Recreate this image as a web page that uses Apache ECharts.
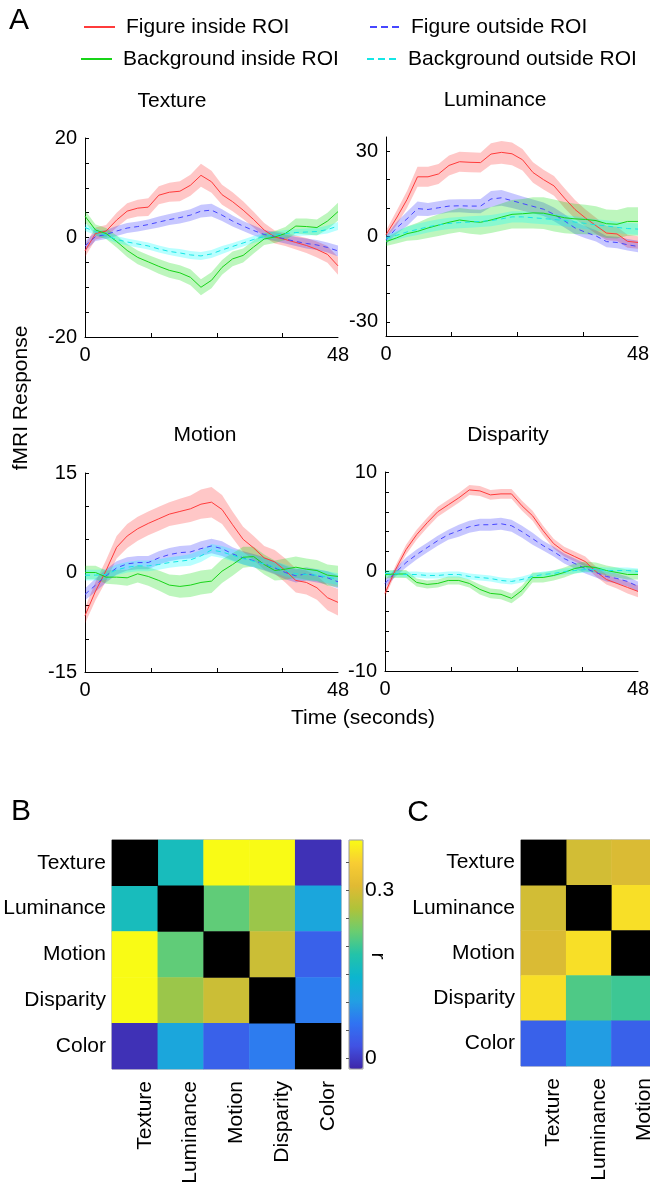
<!DOCTYPE html>
<html>
<head>
<meta charset="utf-8">
<script src="https://cdn.jsdelivr.net/npm/echarts@6/dist/echarts.min.js"></script>
<style>
  html, body { margin: 0; padding: 0; background: #fff; }
  #main { width: 650px; height: 1187px; }
</style>
</head>
<body>
<div id="main"></div>
<script>
// time axis (seconds)
const timePoints = [0, 2, 4, 6, 8, 10, 12, 14, 16, 18, 20, 22, 24, 26, 28, 30, 32, 34, 36, 38, 40, 42, 44, 46, 48];
const conditionNames = ['Figure inside ROI', 'Figure outside ROI', 'Background inside ROI', 'Background outside ROI'];
const panelNames = ['Texture', 'Luminance', 'Motion', 'Disparity'];

// Texture
const textureFigIn = [-2.7, 0.8, 1.3, 3.5, 5.3, 5.9, 6.1, 8.5, 9.1, 9.3, 10.5, 12.5, 11.2, 8.6, 7.2, 5.5, 3.6, 1.5, 0.1, -0.4, -1.0, -1.6, -2.4, -3.4, -5.7];
const textureFigInErr = [1.2, 1.2, 1.2, 1.5, 1.6, 1.7, 1.8, 1.8, 1.9, 2.0, 2.1, 2.3, 2.2, 2.0, 1.9, 1.8, 1.6, 1.4, 1.3, 1.3, 1.4, 1.5, 1.6, 1.7, 1.8];
const textureFigOut = [-1.7, 0.2, 0.6, 1.3, 1.9, 2.2, 2.6, 3.1, 3.6, 4.0, 4.5, 5.3, 5.5, 4.5, 3.3, 2.3, 1.4, 0.6, 0.2, -0.3, -0.8, -1.2, -1.5, -2.0, -2.7];
const textureFigOutErr = [1.0, 0.9, 0.9, 1.0, 1.0, 1.0, 1.0, 1.1, 1.1, 1.2, 1.2, 1.3, 1.3, 1.2, 1.1, 1.0, 1.0, 0.9, 0.9, 0.9, 0.9, 1.0, 1.0, 1.0, 1.1];
const textureBgIn = [4.3, 1.5, 0.8, -0.8, -2.6, -4.0, -4.9, -5.8, -6.6, -7.1, -8.0, -10.0, -8.6, -6.0, -4.3, -3.6, -1.9, -0.3, 0.1, 0.8, 2.3, 2.2, 2.0, 3.3, 5.2];
const textureBgInErr = [1.2, 1.1, 1.1, 1.2, 1.3, 1.4, 1.4, 1.5, 1.5, 1.5, 1.6, 1.6, 1.6, 1.5, 1.5, 1.4, 1.3, 1.2, 1.2, 1.3, 1.5, 1.6, 1.6, 1.7, 1.8];
const textureBgOut = [2.0, 1.2, 0.4, -0.4, -0.9, -1.3, -1.7, -2.3, -2.8, -3.1, -3.5, -3.7, -3.3, -2.5, -1.8, -1.1, -0.4, 0.2, 0.5, 0.8, 1.0, 1.1, 1.2, 1.6, 2.3];
const textureBgOutErr = [0.7, 0.7, 0.7, 0.7, 0.7, 0.7, 0.7, 0.7, 0.7, 0.8, 0.8, 0.8, 0.8, 0.8, 0.7, 0.7, 0.7, 0.7, 0.7, 0.7, 0.7, 0.7, 0.7, 0.8, 0.8];

// Luminance
const lumFigIn = [0.6, 6.5, 13.0, 21.0, 21.0, 22.0, 25.0, 26.3, 26.1, 26.0, 29.0, 29.6, 29.1, 27.0, 22.5, 20.0, 17.8, 13.5, 9.5, 6.5, 3.8, 1.2, 0.9, -1.7, -2.1];
const lumFigInErr = [1.5, 2.5, 3.0, 3.5, 3.5, 3.5, 3.5, 3.5, 3.5, 3.5, 3.8, 4.0, 4.0, 3.8, 3.6, 3.5, 3.5, 3.5, 3.3, 3.0, 2.8, 2.5, 2.5, 2.3, 2.2];
const lumFigOut = [-1.2, 3.0, 6.2, 9.8, 9.5, 10.1, 10.7, 10.8, 10.7, 10.7, 13.2, 13.6, 12.6, 11.6, 10.6, 9.6, 7.8, 5.5, 3.0, 1.5, 0.2, -1.8, -2.1, -2.9, -3.5];
const lumFigOutErr = [1.5, 2.0, 2.5, 2.5, 2.3, 2.3, 2.3, 2.3, 2.4, 2.5, 2.8, 2.8, 2.6, 2.5, 2.4, 2.4, 2.4, 2.3, 2.2, 2.1, 2.0, 2.0, 2.0, 2.0, 2.0];
const lumBgIn = [-1.8, -0.5, 1.0, 1.8, 3.0, 4.0, 5.0, 5.8, 5.3, 5.0, 5.8, 6.8, 7.8, 8.0, 8.3, 8.2, 7.4, 6.6, 6.2, 6.0, 5.6, 4.5, 4.3, 5.3, 5.3];
const lumBgInErr = [1.5, 2.0, 2.5, 3.0, 3.5, 3.8, 4.0, 4.2, 4.3, 4.4, 4.6, 4.8, 5.0, 5.2, 5.5, 5.6, 5.6, 5.5, 5.3, 5.2, 5.0, 5.0, 5.0, 5.0, 5.0];
const lumBgOut = [-0.6, 0.4, 1.6, 2.5, 3.4, 4.1, 4.6, 4.9, 5.1, 5.3, 5.6, 6.2, 6.9, 6.9, 6.6, 6.3, 6.0, 5.6, 5.1, 4.6, 4.1, 3.7, 3.2, 2.8, 2.6];
const lumBgOutErr = [1.2, 1.5, 1.8, 2.0, 2.0, 2.0, 2.0, 2.0, 2.0, 2.0, 2.0, 2.0, 2.0, 2.0, 2.0, 2.0, 2.0, 2.0, 2.0, 2.0, 2.0, 2.0, 2.0, 2.0, 2.0];

// Motion
const motionFigIn = [-6.5, -2.8, 0.3, 3.8, 5.5, 6.6, 7.4, 8.1, 8.8, 9.2, 9.6, 10.3, 10.6, 9.5, 7.2, 5.0, 3.7, 2.2, 1.6, 0.3, -1.2, -1.5, -2.3, -3.8, -4.5];
const motionFigInErr = [1.2, 1.4, 1.6, 1.7, 1.8, 1.8, 1.8, 1.8, 1.8, 1.9, 2.0, 2.2, 2.3, 2.2, 2.0, 1.9, 1.8, 1.8, 1.8, 1.8, 1.8, 1.8, 1.8, 1.9, 2.0];
const motionFigOut = [-3.3, -1.9, -0.5, 0.7, 1.3, 1.5, 1.5, 2.2, 2.7, 3.0, 3.1, 3.6, 4.0, 3.6, 2.8, 2.2, 1.8, 1.3, 0.7, 0.0, -0.5, -0.2, -0.5, -0.8, -1.4];
const motionFigOutErr = [0.9, 1.0, 1.0, 1.0, 1.0, 1.0, 1.0, 1.0, 1.0, 1.0, 1.0, 1.1, 1.1, 1.1, 1.0, 1.0, 1.0, 1.0, 1.0, 1.0, 1.0, 1.0, 1.0, 1.0, 1.0];
const motionBgIn = [0.0, 0.0, -0.7, -0.7, -0.8, -0.2, -0.6, -1.2, -1.9, -2.1, -1.9, -1.5, -1.3, 0.2, 1.2, 2.3, 2.4, 1.2, 0.3, 0.5, 0.8, 0.5, 0.3, -0.4, -0.6];
const motionBgInErr = [1.0, 1.0, 1.0, 1.1, 1.2, 1.3, 1.4, 1.5, 1.6, 1.7, 1.8, 1.8, 1.8, 1.8, 1.7, 1.6, 1.5, 1.5, 1.5, 1.6, 1.6, 1.6, 1.6, 1.6, 1.6];
const motionBgOut = [-0.4, -0.4, -0.3, 0.4, 0.8, 1.0, 1.0, 1.2, 1.5, 1.7, 1.9, 2.5, 3.4, 3.1, 2.6, 2.1, 1.7, 1.3, 0.8, 0.3, -0.2, -0.3, -0.4, -0.7, -1.0];
const motionBgOutErr = [0.8, 0.8, 0.8, 0.8, 0.8, 0.8, 0.8, 0.8, 0.8, 0.8, 0.9, 0.9, 0.9, 0.9, 0.9, 0.9, 0.9, 0.9, 0.9, 0.9, 0.9, 0.9, 0.9, 0.9, 0.9];

// Disparity
const dispFigIn = [-2.2, 0.2, 2.2, 3.7, 4.9, 6.0, 6.7, 7.4, 8.2, 8.1, 7.7, 7.8, 7.8, 6.6, 5.6, 4.1, 2.8, 2.0, 1.5, 1.0, 0.0, -0.8, -1.2, -1.6, -2.0];
const dispFigInErr = [0.4, 0.4, 0.5, 0.5, 0.5, 0.5, 0.5, 0.5, 0.5, 0.5, 0.5, 0.5, 0.5, 0.5, 0.5, 0.5, 0.5, 0.5, 0.5, 0.5, 0.5, 0.5, 0.5, 0.6, 0.6];
const dispFigOut = [-1.2, -0.1, 0.9, 1.7, 2.4, 3.1, 3.7, 4.1, 4.5, 4.7, 4.7, 4.8, 4.6, 4.0, 3.3, 2.6, 2.0, 1.3, 0.8, 0.3, -0.1, -0.5, -0.7, -1.0, -1.5];
const dispFigOutErr = [0.4, 0.4, 0.5, 0.5, 0.5, 0.5, 0.5, 0.6, 0.6, 0.6, 0.6, 0.6, 0.6, 0.6, 0.6, 0.5, 0.5, 0.5, 0.5, 0.5, 0.5, 0.5, 0.5, 0.5, 0.5];
const dispBgIn = [-0.3, -0.25, -0.25, -1.1, -1.3, -1.2, -0.9, -0.9, -1.2, -1.8, -2.2, -2.3, -2.7, -1.9, -0.6, -0.6, -0.4, -0.1, 0.3, 0.5, 0.4, 0.1, -0.1, -0.3, -0.3];
const dispBgInErr = [0.4, 0.4, 0.4, 0.4, 0.4, 0.4, 0.4, 0.4, 0.4, 0.5, 0.5, 0.5, 0.5, 0.5, 0.5, 0.5, 0.5, 0.5, 0.5, 0.5, 0.5, 0.5, 0.5, 0.5, 0.5];
const dispBgOut = [-0.2, -0.2, -0.3, -0.3, -0.4, -0.4, -0.3, -0.3, -0.5, -0.6, -0.7, -0.9, -1.0, -0.8, -0.5, -0.3, -0.2, 0.0, 0.1, 0.2, 0.2, 0.1, 0.1, 0.1, 0.0];
const dispBgOutErr = [0.3, 0.3, 0.3, 0.3, 0.3, 0.3, 0.3, 0.3, 0.3, 0.3, 0.3, 0.3, 0.3, 0.3, 0.3, 0.3, 0.3, 0.3, 0.3, 0.3, 0.3, 0.3, 0.3, 0.3, 0.3];

// axis ticks / labels
const timeTicks = [12.5, 25, 37.5];
const timeLabels = [0, 48];
const textureTicks = [-20, -15, -10, -5, 0, 5, 10, 15, 20];
const textureLabels = [-20, 0, 20];
const lumTicks = [-30, -20, -10, 0, 10, 20, 30];
const lumLabels = [-30, 0, 30];
const motionTicks = [-15, -10, -5, 0, 5, 10, 15];
const motionLabels = [-15, 0, 15];
const dispTicks = [-10, -8, -6, -4, -2, 0, 2, 4, 6, 8, 10];
const dispLabels = [-10, 0, 10];

// correlation matrices (diagonal empty)
const features = ['Texture', 'Luminance', 'Motion', 'Disparity', 'Color'];
const corrB = [
  [null, 0.165, 0.40, 0.40, -0.01],
  [0.165, null, 0.22, 0.255, 0.115],
  [0.40, 0.22, null, 0.29, 0.04],
  [0.40, 0.255, 0.29, null, 0.07],
  [-0.01, 0.115, 0.04, 0.07, null]
];
const corrC = [
  [null, 0.296, 0.302, 0.365, 0.04],
  [0.296, null, 0.365, 0.21, 0.10],
  [0.302, 0.365, null, 0.20, 0.04],
  [0.365, 0.21, 0.20, null, 0.06],
  [0.04, 0.10, 0.04, 0.06, null]
];
const colorbarTicks = [0, 0.05, 0.1, 0.15, 0.2, 0.25, 0.3, 0.35];
const colorbarLabels = [0, 0.3];

const FONT = '"Liberation Sans", Arial, sans-serif';
const lineColors = ['#ff3b3b', '#4646ff', '#18d418', '#14e6e6'];
const bandColors = ['rgba(255,0,0,0.22)', 'rgba(0,0,255,0.22)', 'rgba(0,220,0,0.26)', 'rgba(0,255,255,0.28)'];
const dashed = [false, true, false, true];
const legendIcons = [
  'path://M0,0H31V2H0Z',
  'path://M0,0H7V2H0ZM11,0H18V2H11ZM22,0H29V2H22Z',
  'path://M0,0H31V2H0Z',
  'path://M0,0H7V2H0ZM11,0H18V2H11ZM22,0H29V2H22Z'
];
const parula = ['#3e26a8', '#4152e3', '#3073f2', '#21a0e2', '#0cb5cf', '#23c3a9',
  '#6acd70', '#afc33a', '#e1ba33', '#f8cd33', '#f9fb15'];

const panels = [
  { grid: { left: 85, top: 138, width: 253, height: 199 }, min: -20, max: 20, ticks: textureTicks, labels: textureLabels,
    mean: [textureFigIn, textureFigOut, textureBgIn, textureBgOut], err: [textureFigInErr, textureFigOutErr, textureBgInErr, textureBgOutErr] },
  { grid: { left: 386, top: 137, width: 252, height: 199 }, min: -35, max: 35, ticks: lumTicks, labels: lumLabels,
    mean: [lumFigIn, lumFigOut, lumBgIn, lumBgOut], err: [lumFigInErr, lumFigOutErr, lumBgInErr, lumBgOutErr] },
  { grid: { left: 85, top: 473, width: 253, height: 199 }, min: -15, max: 15, ticks: motionTicks, labels: motionLabels,
    mean: [motionFigIn, motionFigOut, motionBgIn, motionBgOut], err: [motionFigInErr, motionFigOutErr, motionBgInErr, motionBgOutErr] },
  { grid: { left: 385, top: 472, width: 253, height: 199 }, min: -10, max: 10, ticks: dispTicks, labels: dispLabels,
    mean: [dispFigIn, dispFigOut, dispBgIn, dispBgOut], err: [dispFigInErr, dispFigOutErr, dispBgInErr, dispBgOutErr] }
];

const grids = [], xAxes = [], yAxes = [], series = [];
const axisLine = { show: true, onZero: false, lineStyle: { color: '#000', width: 1 } };
const tickLabel = { color: '#000', fontSize: 20, fontFamily: FONT };

panels.forEach((p, pi) => {
  grids.push(Object.assign({ outerBoundsMode: 'none', containLabel: false }, p.grid));
  xAxes.push({
    type: 'value', gridIndex: pi, min: 0, max: 48, position: 'bottom',
    axisLine: axisLine, splitLine: { show: false },
    axisTick: { show: true, inside: true, length: 4, customValues: timeTicks, lineStyle: { color: '#000' } },
    axisLabel: Object.assign({ customValues: timeLabels, margin: 8 }, tickLabel)
  });
  yAxes.push({
    type: 'value', gridIndex: pi, min: p.min, max: p.max, position: 'left',
    axisLine: axisLine, splitLine: { show: false },
    axisTick: { show: true, inside: true, length: 4, customValues: p.ticks, lineStyle: { color: '#000' } },
    axisLabel: Object.assign({ customValues: p.labels, margin: 8 }, tickLabel)
  });
});

// shaded error bands, one polygon per condition
function bandSeries(pi, ci, mean, err) {
  const data = timePoints.map((t, i) => [t, mean[i] - err[i], mean[i] + err[i]]);
  return {
    type: 'custom', name: 'band', xAxisIndex: pi, yAxisIndex: pi, silent: true, animation: false,
    encode: { x: 0, y: [1, 2] },
    data: data,
    renderItem: function (params, api) {
      if (params.dataIndex !== 0) return null;
      const upper = data.map(d => api.coord([d[0], d[2]]));
      const lower = data.map(d => api.coord([d[0], d[1]])).reverse();
      return { type: 'polygon', shape: { points: upper.concat(lower) }, style: { fill: bandColors[ci] } };
    }
  };
}
panels.forEach((p, pi) => {
  [0, 1, 2, 3].forEach(ci => series.push(bandSeries(pi, ci, p.mean[ci], p.err[ci])));
});
// mean lines
panels.forEach((p, pi) => {
  [0, 1, 2, 3].forEach(ci => {
    series.push({
      type: 'line', name: conditionNames[ci], xAxisIndex: pi, yAxisIndex: pi,
      symbol: 'none', animation: false, z: 3,
      itemStyle: { color: lineColors[ci] },
      lineStyle: { color: lineColors[ci], width: 1, type: dashed[ci] ? [5, 4] : 'solid' },
      data: timePoints.map((t, i) => [t, p.mean[ci][i]])
    });
  });
});

// heatmaps
function matrixData(mat) {
  const out = [];
  mat.forEach((row, r) => row.forEach((v, c) => { if (v !== null) out.push([c, r, v]); }));
  return out;
}
const heatGrids = [
  { left: 112, top: 840, width: 229, height: 229 },
  { left: 521, top: 840, width: 226, height: 226 }
];
const heatIdx = [];
[corrB, corrC].forEach((mat, k) => {
  const gi = grids.length;
  grids.push(Object.assign({ outerBoundsMode: 'none', containLabel: false, show: true, borderColor: '#999', borderWidth: 1, backgroundColor: 'transparent' }, heatGrids[k]));
  xAxes.push({
    type: 'category', gridIndex: gi, data: features, position: 'bottom',
    axisLine: { show: false }, splitLine: { show: false },
    axisTick: { show: true, inside: true, length: 3, alignWithLabel: true, lineStyle: { color: '#666' } },
    axisLabel: { interval: 0, rotate: 90, margin: 12, color: '#000', fontSize: 21, fontFamily: FONT, verticalAlign: 'top', lineHeight: 20 }
  });
  yAxes.push({
    type: 'category', gridIndex: gi, data: features, inverse: true,
    axisLine: { show: false }, splitLine: { show: false },
    axisTick: { show: true, inside: true, length: 3, alignWithLabel: true, lineStyle: { color: '#666' } },
    axisLabel: { interval: 0, margin: 6, color: '#000', fontSize: 21, fontFamily: FONT }
  });
  heatIdx.push(series.length);
  series.push({
    type: 'heatmap', name: 'corr' + k, xAxisIndex: gi, yAxisIndex: gi, animation: false,
    data: matrixData(mat)
  });
  series.push({
    type: 'heatmap', name: 'diag' + k, xAxisIndex: gi, yAxisIndex: gi, animation: false,
    itemStyle: { color: '#000' },
    data: features.map((f, i) => [i, i, 1])
  });
});

// colorbar axis
const cbGrid = grids.length;
grids.push({ outerBoundsMode: 'none', containLabel: false, left: 349, top: 840, width: 14, height: 229, show: true, borderColor: '#999', borderWidth: 1, z: 10, backgroundColor: 'transparent' });
xAxes.push({ type: 'value', gridIndex: cbGrid, show: false, min: 0, max: 1 });
yAxes.push({
  type: 'value', gridIndex: cbGrid, min: -0.02, max: 0.39, position: 'right', z: 10,
  axisLine: { show: false }, splitLine: { show: false },
  axisTick: { show: true, inside: true, length: 3, customValues: colorbarTicks, lineStyle: { color: '#555' } },
  axisLabel: { customValues: colorbarLabels, margin: 2, color: '#000', fontSize: 21, fontFamily: FONT }
});
series.push({ type: 'line', name: 'cb', xAxisIndex: cbGrid, yAxisIndex: cbGrid, data: [], silent: true });

const legendPos = [
  { left: 84, top: 15 }, { left: 370, top: 15 },
  { left: 81, top: 47 }, { left: 367, top: 47 }
];

const graphicText = (txt, x, y, size, rot) => ({
  type: 'text', x: x, y: y, rotation: rot || 0, silent: true,
  style: { text: txt, font: size + 'px ' + FONT, fill: '#000', textAlign: 'center', textVerticalAlign: 'middle' }
});

const option = {
  backgroundColor: '#fff',
  animation: false,
  grid: grids,
  xAxis: xAxes,
  yAxis: yAxes,
  legend: conditionNames.map((n, ci) => ({
    data: [{ name: n, icon: legendIcons[ci] }], left: legendPos[ci].left, top: legendPos[ci].top, padding: 0,
    selectedMode: false, itemWidth: 31, itemHeight: 2,
    textStyle: { color: '#000', fontSize: 21, fontFamily: FONT, lineHeight: 24, padding: [0, 0, 0, 6] }
  })),
  visualMap: {
    type: 'continuous', min: -0.02, max: 0.39, seriesIndex: heatIdx,
    left: 349, top: 840, itemWidth: 14, itemHeight: 229, padding: 0,
    calculable: false, text: null, showLabel: false, hoverLink: false,
    inRange: { color: parula }
  },
  graphic: [
    graphicText('A', 19, 21, 30),
    graphicText('B', 21, 812, 30),
    graphicText('C', 418, 813, 30),
    graphicText(panelNames[0], 172, 101, 21),
    graphicText(panelNames[1], 495, 100, 21),
    graphicText(panelNames[2], 205, 435, 21),
    graphicText(panelNames[3], 508, 435, 21),
    graphicText('fMRI Response', 21, 398, 21, Math.PI / 2),
    graphicText('Time (seconds)', 363, 718, 21),
    graphicText('r', 378, 956, 21, -Math.PI / 2)
  ],
  series: series
};

const chart = echarts.init(document.getElementById('main'));
chart.setOption(option);
</script>
</body>
</html>
